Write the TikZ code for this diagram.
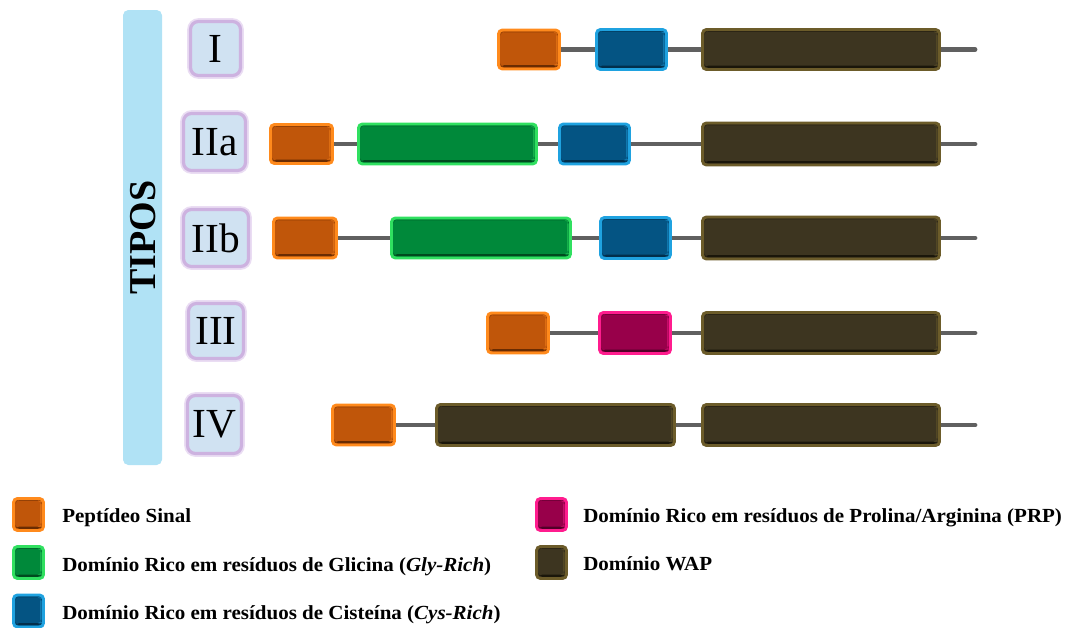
\documentclass[tikz,border=0pt]{standalone}
\usepackage{fontspec}
\setmainfont{Liberation Serif}
\usetikzlibrary{backgrounds}
\definecolor{orangemain}{HTML}{C0560A}
\definecolor{orangeedge}{HTML}{FF8A1C}
\definecolor{orangedark}{HTML}{6A2C02}
\definecolor{bluemain}{HTML}{045483}
\definecolor{blueedge}{HTML}{1FA2E0}
\definecolor{bluedark}{HTML}{022F4C}
\definecolor{greenmain}{HTML}{00893A}
\definecolor{greenedge}{HTML}{30E060}
\definecolor{greendark}{HTML}{004A1E}
\definecolor{magmain}{HTML}{98004A}
\definecolor{magedge}{HTML}{FF1C8E}
\definecolor{magdark}{HTML}{520028}
\definecolor{wapmain}{HTML}{3D3520}
\definecolor{wapedge}{HTML}{6C5C2A}
\definecolor{wapdark}{HTML}{1A160A}
\definecolor{linegray}{HTML}{606060}
\definecolor{barblue}{HTML}{B0E2F5}
\definecolor{labfill}{HTML}{D0E2F2}
\definecolor{labedge}{HTML}{CDB2E0}
\definecolor{labglow}{HTML}{EADDF3}
\begin{document}
\begin{tikzpicture}[x=0.75pt,y=-0.75pt,
  dom/.style={draw=#1edge, fill=#1main, line width=2.2pt, rounded corners=3pt, inner sep=0pt,
    path picture={
      \fill[#1dark] ([xshift=1.5pt,yshift=1.2pt]path picture bounding box.south west) rectangle ([xshift=-1.5pt,yshift=3pt]path picture bounding box.south east);
      \fill[#1dark!50!#1main] ([xshift=1.5pt,yshift=-1.8pt]path picture bounding box.north west) rectangle ([xshift=-1.5pt,yshift=-1.2pt]path picture bounding box.north east);
      \fill[#1edge!45!#1main] ([xshift=-2.6pt,yshift=3pt]path picture bounding box.south east) rectangle ([xshift=-1.4pt,yshift=-1.8pt]path picture bounding box.north east);
    }},
  sz/.style 2 args={minimum width=(#1-3)*0.75pt, minimum height=(#2-3)*0.75pt},
  bb/.style={draw=linegray, line width=3.6pt, line cap=round},
  tlab/.style={fill=labfill, draw=labedge, line width=2.4pt, rounded corners=6pt, inner sep=0pt,
    preaction={draw=labglow, line width=5pt},
    font=\fontsize{31}{31}\selectfont},
  leg/.style={anchor=base west, inner sep=0pt, font=\fontsize{15}{17}\selectfont\bfseries\addfontfeature{FakeStretch=1.05}}
]
\useasboundingbox (0,0) rectangle (1067,628);

% TIPOS bar
\node[fill=barblue, rounded corners=4pt, minimum width=39*0.75pt, minimum height=455*0.75pt, inner sep=0pt] (bar) at (142.5,237.5) {};
\node[rotate=90, font=\fontsize{28.5}{29}\selectfont\bfseries, inner sep=0pt] (tipos) at (143,237.5) {TIPOS};

% type labels
\node[tlab, sz={53}{57}] (tI) at (215.5,48.5) {I};
\node[tlab, sz={65}{60}] (tIIa) at (214.5,142) {IIa};
\node[tlab, sz={68}{60}] (tIIb) at (216,238) {IIb};
\node[tlab, sz={58}{58}] (tIII) at (216,331) {III};
\node[tlab, sz={57}{61}] (tIV) at (214.5,424.5) {IV};

% Row I
\node[dom=orange, sz={64}{42}] (o1) at (529,49.5) {};
\node[dom=blue, sz={73}{43}] (b1) at (631.5,49.5) {};
\node[dom=wap, sz={240}{43}] (w1) at (821,49.5) {};
\coordinate (e1) at (975,49.5);
% Row IIa
\node[dom=orange, sz={65}{42}] (o2) at (301.5,144) {};
\node[dom=green, sz={181}{43}] (g2) at (447.5,144) {};
\node[dom=blue, sz={73}{43}] (b2) at (594.5,144) {};
\node[dom=wap, sz={240}{45}] (w2) at (821,144) {};
\coordinate (e2) at (975,144);
% Row IIb
\node[dom=orange, sz={66}{43}] (o3) at (305,238) {};
\node[dom=green, sz={182}{43}] (g3) at (481,238) {};
\node[dom=blue, sz={73}{44}] (b3) at (635.5,238) {};
\node[dom=wap, sz={240}{45}] (w3) at (821,238) {};
\coordinate (e3) at (975,238);
% Row III
\node[dom=orange, sz={64}{43}] (o4) at (518,333) {};
\node[dom=mag, sz={74}{44}] (m4) at (635,333) {};
\node[dom=wap, sz={240}{44}] (w4) at (821,333) {};
\coordinate (e4) at (975,333);
% Row IV
\node[dom=orange, sz={65}{43}] (o5) at (363.5,425) {};
\node[dom=wap, sz={241}{44}] (v5) at (555.5,425) {};
\node[dom=wap, sz={240}{44}] (w5) at (821,425) {};
\coordinate (e5) at (975,425);

\begin{scope}[on background layer]
\draw[bb] (o1.east) -- (b1.west);
\draw[bb] (b1.east) -- (w1.west);
\draw[bb] (w1.east) -- (e1);
\draw[bb] (o2.east) -- (g2.west);
\draw[bb] (g2.east) -- (b2.west);
\draw[bb] (b2.east) -- (w2.west);
\draw[bb] (w2.east) -- (e2);
\draw[bb] (o3.east) -- (g3.west);
\draw[bb] (g3.east) -- (b3.west);
\draw[bb] (b3.east) -- (w3.west);
\draw[bb] (w3.east) -- (e3);
\draw[bb] (o4.east) -- (m4.west);
\draw[bb] (m4.east) -- (w4.west);
\draw[bb] (w4.east) -- (e4);
\draw[bb] (o5.east) -- (v5.west);
\draw[bb] (v5.east) -- (w5.west);
\draw[bb] (w5.east) -- (e5);
\end{scope}

% Legend
\node[dom=orange, sz={33}{35}] (lo) at (28.5,514.5) {};
\node[dom=green, sz={33}{35}] (lg) at (28.5,562.5) {};
\node[dom=blue, sz={33}{35}] (lb) at (28.5,611) {};
\node[dom=mag, sz={33}{35}] (lm) at (551.5,514.5) {};
\node[dom=wap, sz={33}{35}] (lw) at (551.5,562.5) {};
\node[leg] (to) at (62,522) {Peptídeo Sinal};
\node[leg] (tg) at (62,571) {Domínio Rico em resíduos de Glicina (\textit{Gly-Rich})};
\node[leg] (tb) at (62,619.5) {Domínio Rico em resíduos de Cisteína (\textit{Cys-Rich})};
\node[leg] (tm) at (583,522) {Domínio Rico em resíduos de Prolina/Arginina (PRP)};
\node[leg] (tw) at (583,570.5) {Domínio WAP};
\end{tikzpicture}
\end{document}
